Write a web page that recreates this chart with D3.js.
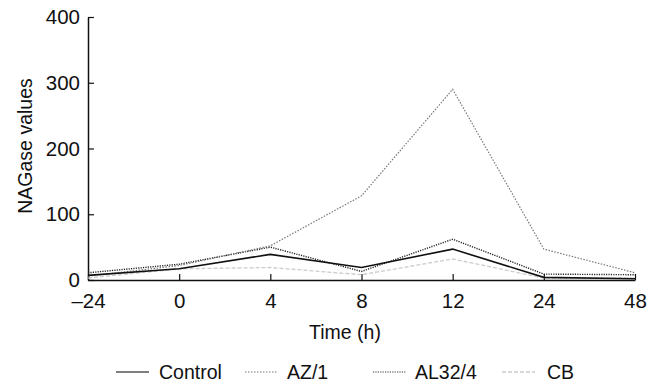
<!DOCTYPE html>
<html>
<head>
<meta charset="utf-8">
<script src="https://cdn.jsdelivr.net/npm/d3@7"></script>
<style>
  body { margin: 0; background: #fff; }
  text { font-family: "Liberation Sans", Arial, sans-serif; fill: #111; }
</style>
</head>
<body>
<svg width="656" height="386"></svg>
<script>
// time points (h), evenly spaced on the axis
const times = ["–24", "0", "4", "8", "12", "24", "48"]
const control = [7, 17, 39, 19, 47, 4, 2]
const az1 = [6, 22, 52, 128, 290, 47, 11]
const al324 = [11, 24, 50, 13, 62, 9, 8]
const cb = [3, 17, 19, 8, 32, 3, 3]
const yTicks = [0, 100, 200, 300, 400]

const series = [
  { name: "Control", values: control, color: "#111", width: 1.6, dash: null },
  { name: "AZ/1", values: az1, color: "#777", width: 1.2, dash: "1.5,1.5" },
  { name: "AL32/4", values: al324, color: "#222", width: 1.4, dash: "1.2,1.2" },
  { name: "CB", values: cb, color: "#ccc", width: 1.3, dash: "4,2" }
]

const svg = d3.select("svg")
const mLeft = 88, mRight = 635, mTop = 17, mBottom = 280

const x = d3.scalePoint().domain(times).range([mLeft, mRight])
const y = d3.scaleLinear().domain([0, 400]).range([mBottom, mTop])

// y axis
const ya = svg.append("g").attr("transform", `translate(${mLeft},0)`)
  .call(d3.axisLeft(y).tickValues(yTicks).tickSizeInner(-6).tickSizeOuter(0).tickPadding(8))
ya.select(".domain").attr("stroke", "#111").attr("stroke-width", 1.5)
ya.selectAll(".tick line").attr("stroke", "#111").attr("stroke-width", 1.2)
ya.selectAll("text").attr("font-size", 20.5).attr("font-family", "Liberation Sans, Arial, sans-serif")

// x axis
const xa = svg.append("g").attr("transform", `translate(0,${mBottom})`)
  .call(d3.axisBottom(x).tickSizeInner(-6).tickSizeOuter(0).tickPadding(13))
xa.select(".domain").attr("stroke", "#111").attr("stroke-width", 1.5)
xa.selectAll(".tick line").attr("stroke", "#111").attr("stroke-width", 1.2)
xa.selectAll("text").attr("font-size", 20.5).attr("font-family", "Liberation Sans, Arial, sans-serif")

// lines
const line = d3.line().x((d, i) => x(times[i])).y(d => y(d))
svg.append("g").selectAll("path")
  .data(series.slice().reverse())
  .enter()
  .append("path")
  .attr("d", d => line(d.values))
  .attr("fill", "none")
  .attr("stroke", d => d.color)
  .attr("stroke-width", d => d.width)
  .attr("stroke-dasharray", d => d.dash)

// axis titles
svg.append("text")
  .attr("x", 345).attr("y", 339)
  .attr("text-anchor", "middle")
  .attr("font-size", 19.5)
  .text("Time (h)")

svg.append("text")
  .attr("transform", "translate(32,146) rotate(-90)")
  .attr("text-anchor", "middle")
  .attr("font-size", 19.5)
  .text("NAGase values")

// legend
const legendX = [116, 245, 373, 502]
const leg = svg.append("g").selectAll("g")
  .data(series)
  .enter()
  .append("g")
  .attr("transform", (d, i) => `translate(${legendX[i]},372)`)
leg.append("line")
  .attr("x1", 0).attr("x2", 33)
  .attr("stroke", d => d.name === "Control" ? "#555" : d.name === "AL32/4" ? "#777" : d.color)
  .attr("stroke-width", d => d.width)
  .attr("stroke-dasharray", d => d.dash)
leg.append("text")
  .attr("x", d => d.name === "Control" ? 43 : d.name === "CB" ? 45 : 42)
  .attr("y", 7)
  .attr("font-size", 19.5)
  .text(d => d.name)
</script>
</body>
</html>
